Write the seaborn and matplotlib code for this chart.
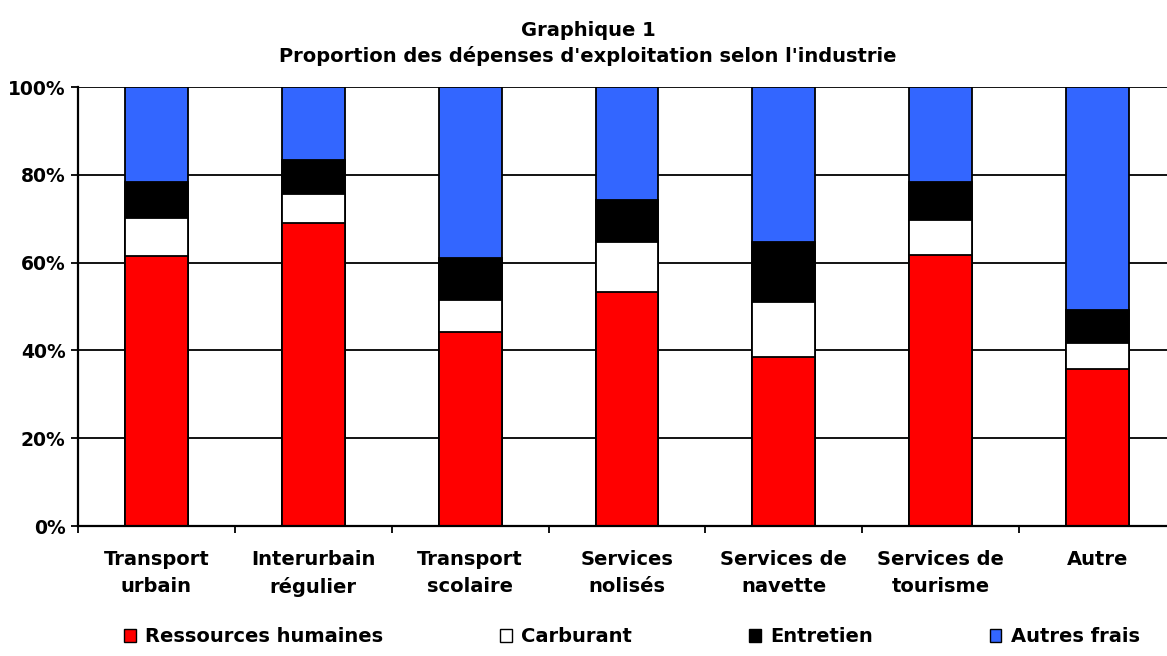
import numpy as np
import pandas as pd
import seaborn as sns
import matplotlib.pyplot as plt
from matplotlib.patches import Patch
from matplotlib.ticker import FixedLocator, PercentFormatter

categories = ["Transport\nurbain", "Interurbain\nrégulier", "Transport\nscolaire",
              "Services\nnolisés", "Services de\nnavette", "Services de\ntourisme", "Autre"]
ressources_humaines = [61.4, 69.1, 44.1, 53.2, 38.6, 61.8, 35.8]
carburant = [8.8, 6.6, 7.4, 11.6, 12.5, 8.0, 5.8]
entretien = [8.1, 7.6, 9.5, 9.4, 13.6, 8.6, 7.6]
autres_frais = [21.7, 16.7, 39.0, 25.8, 35.3, 21.6, 50.8]

series = ["Ressources humaines", "Carburant", "Entretien", "Autres frais"]
colors = ["#FF0000", "#FFFFFF", "#000000", "#3366FF"]

df = pd.DataFrame({
    "Industrie": categories,
    "Ressources humaines": ressources_humaines,
    "Carburant": carburant,
    "Entretien": entretien,
    "Autres frais": autres_frais,
})
cum = df[series].cumsum(axis=1)

sns.set_style("white")
plt.rcParams['font.family'] = ['DejaVu Sans']
plt.rcParams['font.weight'] = 'bold'
plt.rcParams['text.color'] = 'black'
plt.rcParams['xtick.color'] = 'black'
plt.rcParams['ytick.color'] = 'black'

fig = plt.figure(figsize=(11.67, 6.56), dpi=100)
ax = fig.add_axes([78 / 1167, 1 - 526 / 656, 1098 / 1167, 439 / 656])

# stacked bars: draw cumulative totals from the top segment down
for name, color in reversed(list(zip(series, colors))):
    sns.barplot(x=df["Industrie"], y=cum[name], color=color, saturation=1,
                width=0.4, edgecolor="black", linewidth=1.3, errorbar=None, ax=ax)

ax.set_xlim(-0.5, 6.5)
ax.set_ylim(0, 100)
ax.set_yticks([0, 20, 40, 60, 80, 100])
ax.yaxis.set_major_formatter(PercentFormatter(decimals=0))
ax.yaxis.grid(True, color="black", linewidth=1.3)
ax.set_axisbelow(True)
ax.set_xlabel("")
ax.set_ylabel("")

for side in ["top", "right"]:
    ax.spines[side].set_visible(False)
for side in ["left", "bottom"]:
    ax.spines[side].set_color("black")
    ax.spines[side].set_linewidth(1.6)

ax.tick_params(axis="y", direction="out", length=5, width=1.3,
               labelsize=13.5, pad=4, left=True)
ax.tick_params(axis="x", which="major", length=0, labelsize=14, pad=17)
ax.xaxis.set_minor_locator(FixedLocator(np.arange(-0.5, 7, 1)))
ax.tick_params(axis="x", which="minor", direction="out", length=5, width=1.3,
               bottom=True)
for lbl in ax.get_xticklabels():
    lbl.set_linespacing(1.55)
for lbl in ax.get_xticklabels() + ax.get_yticklabels():
    lbl.set_fontweight("bold")

fig.text(588 / 1167, 1 - 30 / 656, "Graphique 1", ha="center", va="center",
         fontsize=14, fontweight="bold")
fig.text(588 / 1167, 1 - 56 / 656, "Proportion des dépenses d'exploitation selon l'industrie",
         ha="center", va="center", fontsize=14, fontweight="bold")

handles = [Patch(facecolor=c, edgecolor="black", linewidth=1.0) for c in colors]
fig.legend(handles, series, loc="center", bbox_to_anchor=(632 / 1167, 1 - 637 / 656),
           ncol=4, frameon=False, prop={"size": 14, "weight": "bold"},
           handlelength=0.6, handleheight=0.6, handletextpad=0.5, columnspacing=6.0)

fig.savefig("out.png", dpi=100)
